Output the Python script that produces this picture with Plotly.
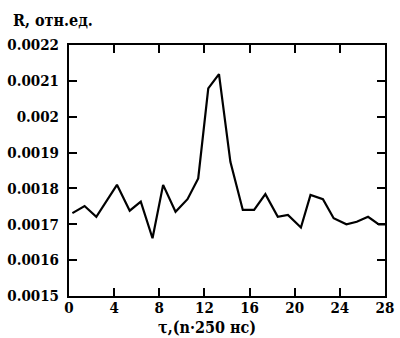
import plotly.graph_objects as go

# delay index n (tau in units of 250 ns) and reflection coefficient R
tau = [0.3, 1.38, 2.42, 4.25, 5.38, 6.36, 7.4, 8.34, 9.44, 10.5, 11.45, 12.34,
       13.29, 14.3, 15.4, 16.4, 17.4, 18.5, 19.4, 20.55, 21.4, 22.5, 23.45,
       24.58, 25.5, 26.5, 27.45, 28.0]
r_val = [0.001731, 0.001751, 0.001721, 0.001810, 0.001738, 0.001763, 0.001661,
         0.001810, 0.001735, 0.001770, 0.001828, 0.002079, 0.002119, 0.001874,
         0.001740, 0.001740, 0.001784, 0.001721, 0.001726, 0.001691, 0.001782,
         0.001770, 0.001717, 0.001700, 0.001707, 0.001721, 0.001700, 0.001700]

x_ticks = [0, 4, 8, 12, 16, 20, 24, 28]
y_ticks = [0.0015, 0.0016, 0.0017, 0.0018, 0.0019, 0.002, 0.0021, 0.0022]
y_labels = ["0.0015", "0.0016", "0.0017", "0.0018", "0.0019", "0.002", "0.0021", "0.0022"]

FAMILY = "DejaVu Serif Condensed, DejaVu Serif"
font = dict(family=FAMILY, size=16, color="black")

fig = go.Figure()
fig.add_trace(go.Scatter(x=tau, y=r_val, mode="lines",
                         line=dict(color="black", width=2.2)))

axis_common = dict(showgrid=False, zeroline=False, showline=True, linecolor="black",
                   linewidth=2, mirror="allticks", ticks="inside", ticklen=8,
                   tickwidth=2, tickcolor="black", automargin=False,
                   tickfont=dict(family=FAMILY, size=15, color="black"))

fig.update_xaxes(range=[0, 28], tickvals=x_ticks,
                 ticktext=["<b>%d</b>" % v for v in x_ticks],
                 ticklabelstandoff=-3, **axis_common)
fig.update_yaxes(range=[0.0015, 0.0022], tickvals=y_ticks,
                 ticktext=["<b>%s</b>" % s for s in y_labels],
                 ticklabelstandoff=5, **axis_common)

# titles placed by pixel position, converted to paper coordinates below
fig.add_annotation(text="<b>R, отн.ед.</b>", x=11, y=20, xref="paper", yref="paper",
                   showarrow=False, xanchor="left", yanchor="middle", font=font)
fig.add_annotation(text="<b>τ,(n·250 нс)</b>", x=207, y=327, xref="paper", yref="paper",
                   showarrow=False, xanchor="center", yanchor="middle", font=font)

W, H = 400, 338
L, R, T, B = 69, 15, 45, 42
pw, ph = W - L - R, H - T - B
for a in fig.layout.annotations:
    a.x = (a.x - L) / pw
    a.y = 1 - (a.y - T) / ph

fig.update_layout(width=W, height=H, margin=dict(l=L, r=R, t=T, b=B),
                  paper_bgcolor="white", plot_bgcolor="white", showlegend=False,
                  font=font)

fig.write_html("out.html")
